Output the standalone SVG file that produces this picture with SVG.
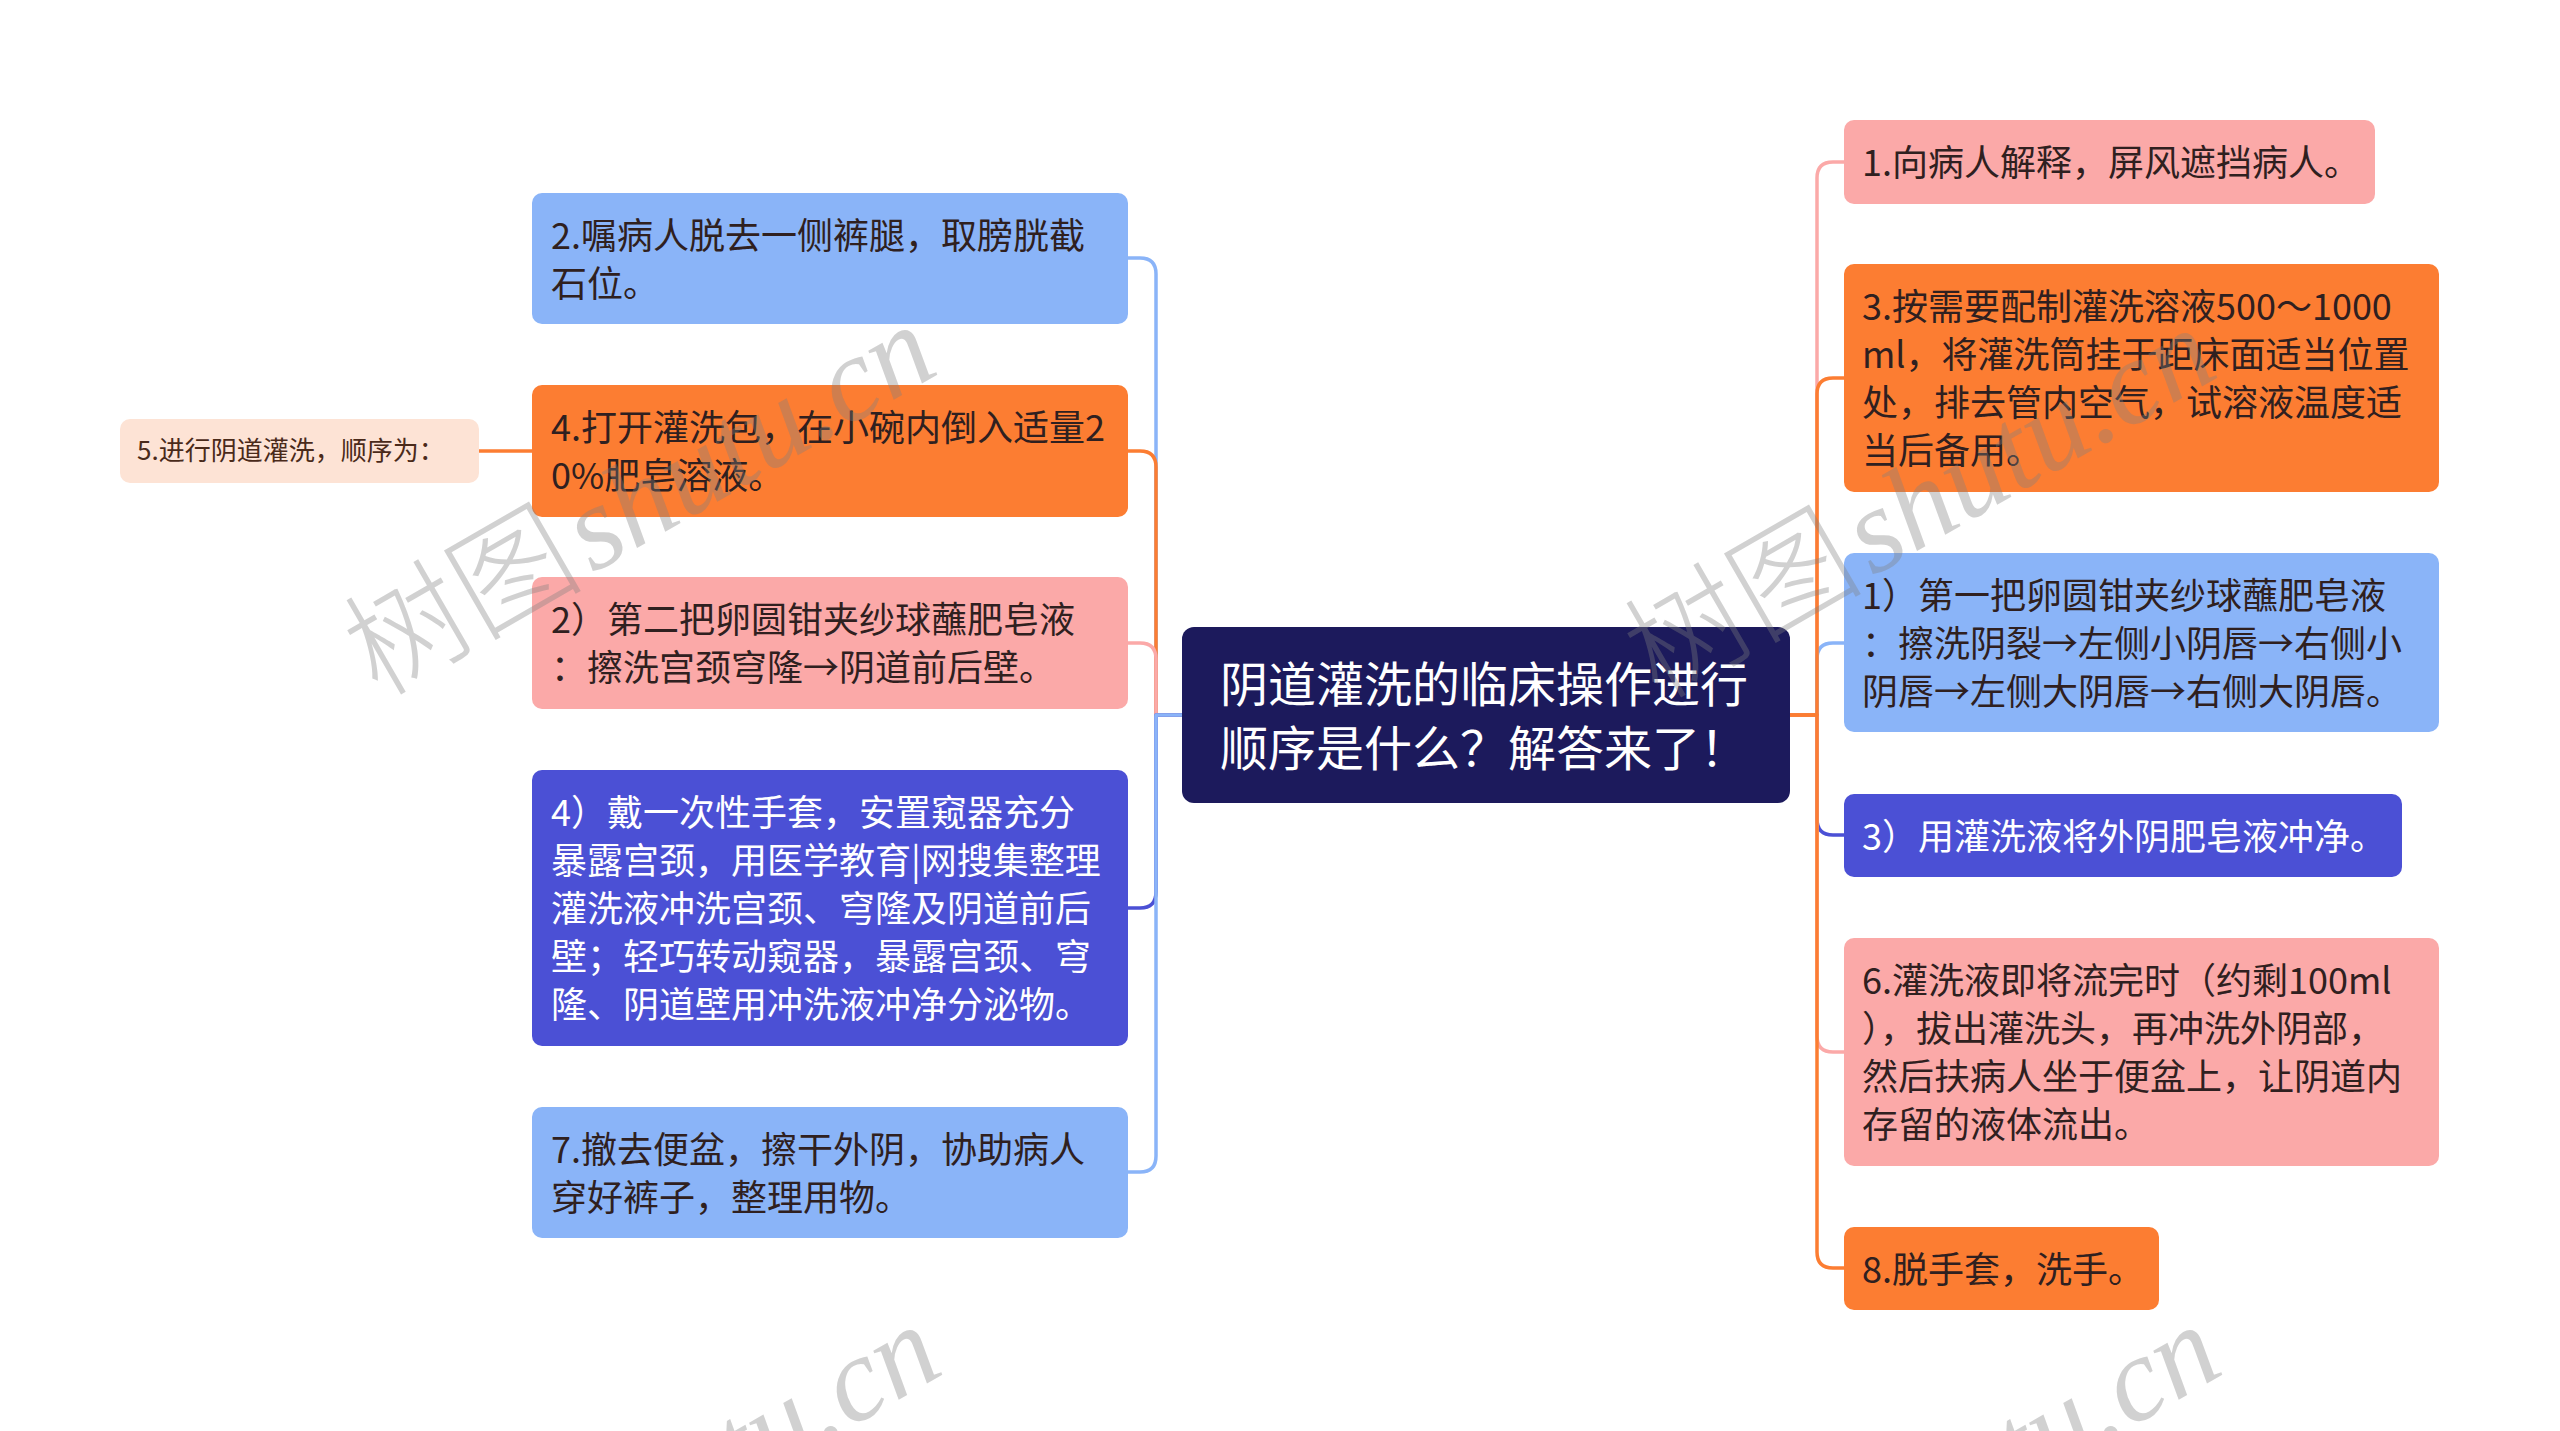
<svg xmlns="http://www.w3.org/2000/svg" width="2560" height="1431" viewBox="0 0 2560 1431">
<style>
.t{font-family:"Noto Sans CJK SC","Noto Sans",sans-serif;font-size:36px;fill:#2f2020}
.tw{font-family:"Noto Sans CJK SC","Noto Sans",sans-serif;font-size:36px;fill:#ffffff}
.lb{fill:#8ab4f8}.or{fill:#fc7d32}.pk{fill:#fba9a8}.vi{fill:#4b50d5}
.c{fill:none;stroke-width:3.5;stroke-linejoin:round}
.clb{stroke:#8ab4f8}.cor{stroke:#fc7d32}.cpk{stroke:#fba9a8}.cvi{stroke:#4b50d5}
.wm{fill:#808080;fill-opacity:0.36;font-size:120px}
</style>
<rect width="2560" height="1431" fill="#ffffff"/>
<g id="connectors">
<path class="c clb" d="M1182,715 H1156 V274 Q1156,258 1140,258 H1128"/>
<path class="c cor" d="M1182,715 H1156 V467 Q1156,451 1140,451 H1128"/>
<path class="c cpk" d="M1182,715 H1156 V659 Q1156,643 1140,643 H1128"/>
<path class="c cvi" d="M1182,715 H1156 V892 Q1156,908 1140,908 H1128"/>
<path class="c clb" d="M1182,715 H1156 V1156 Q1156,1172 1140,1172 H1128"/>
<path class="c cor" d="M532,451 H479"/>
<path class="c cpk" d="M1790,715 H1817 V178 Q1817,162 1833,162 H1844"/>
<path class="c clb" d="M1790,715 H1817 V659 Q1817,643 1833,643 H1844"/>
<path class="c cvi" d="M1790,715 H1817 V819 Q1817,835 1833,835 H1844"/>
<path class="c cpk" d="M1790,715 H1817 V1036 Q1817,1052 1833,1052 H1844"/>
<path class="c cor" d="M1790,715 H1817 V394 Q1817,378 1833,378 H1844"/>
<path class="c cor" d="M1790,715 H1817 V1252 Q1817,1268 1833,1268 H1844"/>
</g>
<g id="center">
<rect x="1182" y="627" width="608" height="176" rx="12" fill="#1c1a5c"/>
<text class="tw" style="font-size:48px" x="1220" y="702">阴道灌洗的临床操作进行</text>
<text class="tw" style="font-size:48px" x="1220" y="766">顺序是什么？解答来了！</text>
</g>
<g id="node-l2">
<rect class="lb" x="532" y="193" width="596" height="131" rx="10"/>
<text class="t" x="551" y="249">2.嘱病人脱去一侧裤腿，取膀胱截</text>
<text class="t" x="551" y="297">石位。</text>
</g>
<g id="node-l4">
<rect class="or" x="532" y="385" width="596" height="132" rx="10"/>
<text class="t" x="551" y="441">4.打开灌洗包，在小碗内倒入适量2</text>
<text class="t" x="551" y="489">0%肥皂溶液。</text>
</g>
<g id="node-l5">
<rect x="120" y="419" width="359" height="64" rx="10" fill="#fde3d5"/>
<text class="t" style="font-size:26px;fill:#4a2a1a" x="137" y="460">5.进行阴道灌洗，顺序为：</text>
</g>
<g id="node-l2b">
<rect class="pk" x="532" y="577" width="596" height="132" rx="10"/>
<text class="t" x="551" y="633">2）第二把卵圆钳夹纱球蘸肥皂液</text>
<text class="t" x="551" y="681">：擦洗宫颈穹隆→阴道前后壁。</text>
</g>
<g id="node-l4b">
<rect class="vi" x="532" y="770" width="596" height="276" rx="10"/>
<text class="tw" x="551" y="826">4）戴一次性手套，安置窥器充分</text>
<text class="tw" x="551" y="874">暴露宫颈，用医学教育|网搜集整理</text>
<text class="tw" x="551" y="922">灌洗液冲洗宫颈、穹隆及阴道前后</text>
<text class="tw" x="551" y="970">壁；轻巧转动窥器，暴露宫颈、穹</text>
<text class="tw" x="551" y="1018">隆、阴道壁用冲洗液冲净分泌物。</text>
</g>
<g id="node-l7">
<rect class="lb" x="532" y="1107" width="596" height="131" rx="10"/>
<text class="t" x="551" y="1163">7.撤去便盆，擦干外阴，协助病人</text>
<text class="t" x="551" y="1211">穿好裤子，整理用物。</text>
</g>
<g id="node-r1">
<rect class="pk" x="1844" y="120" width="531" height="84" rx="10"/>
<text class="t" x="1862" y="176">1.向病人解释，屏风遮挡病人。</text>
</g>
<g id="node-r3">
<rect class="or" x="1844" y="264" width="595" height="228" rx="10"/>
<text class="t" x="1862" y="320">3.按需要配制灌洗溶液500～1000</text>
<text class="t" x="1862" y="368">ml，将灌洗筒挂于距床面适当位置</text>
<text class="t" x="1862" y="416">处，排去管内空气，试溶液温度适</text>
<text class="t" x="1862" y="464">当后备用。</text>
</g>
<g id="node-r1b">
<rect class="lb" x="1844" y="553" width="595" height="179" rx="10"/>
<text class="t" x="1862" y="609">1）第一把卵圆钳夹纱球蘸肥皂液</text>
<text class="t" x="1862" y="657">：擦洗阴裂→左侧小阴唇→右侧小</text>
<text class="t" x="1862" y="705">阴唇→左侧大阴唇→右侧大阴唇。</text>
</g>
<g id="node-r3b">
<rect class="vi" x="1844" y="794" width="558" height="83" rx="10"/>
<text class="tw" x="1862" y="850">3）用灌洗液将外阴肥皂液冲净。</text>
</g>
<g id="node-r6">
<rect class="pk" x="1844" y="938" width="595" height="228" rx="10"/>
<text class="t" x="1862" y="994">6.灌洗液即将流完时（约剩100ml</text>
<text class="t" x="1862" y="1042">），拔出灌洗头，再冲洗外阴部，</text>
<text class="t" x="1862" y="1090">然后扶病人坐于便盆上，让阴道内</text>
<text class="t" x="1862" y="1138">存留的液体流出。</text>
</g>
<g id="node-r8">
<rect class="or" x="1844" y="1227" width="315" height="83" rx="10"/>
<text class="t" x="1862" y="1283">8.脱手套，洗手。</text>
</g>
<g id="watermarks" class="wm">
<text transform="translate(942,372) rotate(-30)" text-anchor="end"><tspan font-family="Noto Sans CJK SC, sans-serif" font-weight="300">树图</tspan><tspan dx="8" font-family="Liberation Serif, serif" font-style="italic">shutu.cn</tspan></text>
<text transform="translate(2222,375) rotate(-30)" text-anchor="end"><tspan font-family="Noto Sans CJK SC, sans-serif" font-weight="300">树图</tspan><tspan dx="8" font-family="Liberation Serif, serif" font-style="italic">shutu.cn</tspan></text>
<text transform="translate(947,1372) rotate(-30)" text-anchor="end"><tspan font-family="Noto Sans CJK SC, sans-serif" font-weight="300">树图</tspan><tspan dx="8" font-family="Liberation Serif, serif" font-style="italic">shutu.cn</tspan></text>
<text transform="translate(2227,1372) rotate(-30)" text-anchor="end"><tspan font-family="Noto Sans CJK SC, sans-serif" font-weight="300">树图</tspan><tspan dx="8" font-family="Liberation Serif, serif" font-style="italic">shutu.cn</tspan></text>
</g>
</svg>
